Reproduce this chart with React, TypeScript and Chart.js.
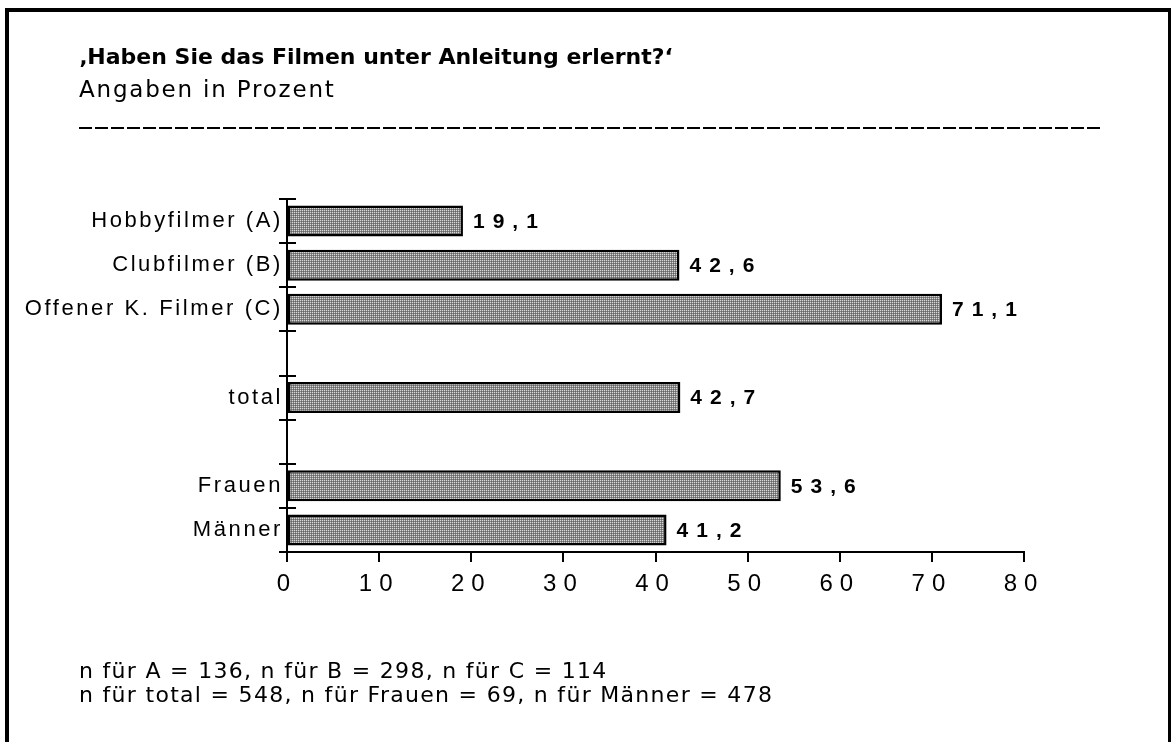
import React, { useEffect, useRef } from "react";
import { Chart, registerables } from "chart.js";

Chart.register(...registerables);

// ---- data ----
const categories = [
  "Hobbyfilmer (A)",
  "Clubfilmer (B)",
  "Offener K. Filmer (C)",
  "",
  "total",
  "",
  "Frauen",
  "Männer",
];
const values: (number | null)[] = [19.1, 42.6, 71.1, null, 42.7, null, 53.6, 41.2];
const xTickValues = [0, 10, 20, 30, 40, 50, 60, 70, 80];
const xTickLabels = ["0", "10", "20", "30", "40", "50", "60", "70", "80"];

const titleText = "‚Haben Sie das Filmen unter Anleitung erlernt?‘";
const subtitleText = "Angaben in Prozent";
const footnoteLines = [
  "n für A = 136, n für B = 298, n für C = 114",
  "n für total = 548, n für Frauen = 69, n für Männer = 478",
];

const W = 1171;
const H = 742;

function makePattern(): CanvasPattern | string {
  const c = document.createElement("canvas");
  c.width = 2;
  c.height = 2;
  const g = c.getContext("2d");
  if (!g) return "#999999";
  g.fillStyle = "#858585";
  g.fillRect(0, 0, 2, 2);
  g.fillStyle = "#d8d8d8";
  g.fillRect(0, 0, 1, 1);
  g.fillStyle = "#666666";
  g.fillRect(1, 1, 1, 1);
  const p = g.createPattern(c, "repeat");
  return p || "#999999";
}

const spacingPlugin = {
  id: "spacing",
  beforeDraw(chart: any) {
    chart.ctx.letterSpacing = "2.6px";
  },
  afterDatasetsDraw(chart: any) {
    const ctx = chart.ctx;
    const meta = chart.getDatasetMeta(0);
    ctx.save();
    ctx.letterSpacing = "8px";
    ctx.font = 'bold 21px "Liberation Sans", Arial, sans-serif';
    ctx.fillStyle = "#000";
    ctx.textAlign = "left";
    ctx.textBaseline = "middle";
    meta.data.forEach((bar: any, i: number) => {
      const v = values[i];
      if (v == null) return;
      ctx.fillText(v.toFixed(1).replace(".", ","), bar.x + 10, bar.y + 1);
    });
    ctx.restore();
    ctx.letterSpacing = "7px";
  },
  afterDraw(chart: any) {
    const ctx = chart.ctx;
    const ys = chart.scales.y;
    const xs = chart.scales.x;
    const ax = xs.getPixelForValue(0);
    ctx.save();
    ctx.strokeStyle = "#000";
    ctx.lineWidth = 2;
    for (let i = 0; i <= categories.length; i++) {
      const py = Math.round(ys.getPixelForValue(i - 0.5));
      ctx.beginPath();
      ctx.moveTo(ax - 8, py);
      ctx.lineTo(ax + 9, py);
      ctx.stroke();
    }
    ctx.restore();
    ctx.letterSpacing = "0px";
  },
};

export default function App() {
  const ref = useRef<HTMLCanvasElement | null>(null);

  useEffect(() => {
    document.body.style.margin = "0";
    const canvas = ref.current;
    if (!canvas) return;
    const chart = new Chart(canvas, {
      type: "bar",
      data: {
        labels: categories,
        datasets: [
          {
            data: values as any,
            backgroundColor: makePattern() as any,
            borderColor: "#000",
            borderWidth: 2.5,
            borderSkipped: false,
            barPercentage: 0.7,
            categoryPercentage: 1.0,
          },
        ],
      },
      options: {
        indexAxis: "y",
        responsive: false,
        animation: false,
        devicePixelRatio: 1,
        layout: { padding: { left: 0, right: 147, top: 199, bottom: 0 } },
        plugins: {
          legend: { display: false },
          tooltip: { enabled: false },
          title: { display: false },
        },
        scales: {
          x: {
            type: "linear",
            min: 0,
            max: 80,
            afterFit: (s: any) => {
              s.height = 190;
            },
            afterBuildTicks: (s: any) => {
              s.ticks = xTickValues.map((v) => ({ value: v }));
            },
            ticks: {
              z: 1,
              padding: 8,
              color: "#000",
              font: { family: '"Liberation Sans", Arial, sans-serif', size: 24 },
              callback: (v: any) => {
                const i = xTickValues.indexOf(Number(v));
                return i >= 0 ? xTickLabels[i] : "";
              },
            },
            grid: {
              drawOnChartArea: false,
              drawTicks: true,
              tickLength: 10,
              color: "#000",
              lineWidth: 2,
            },
            border: { display: true, color: "#000", width: 2 },
          },
          y: {
            type: "category",
            afterFit: (s: any) => {
              s.width = 287;
            },
            ticks: {
              padding: 4,
              color: "#000",
              autoSkip: false,
              font: { family: '"Liberation Sans", Arial, sans-serif', size: 22 },
            },
            grid: { display: false, drawTicks: false },
            border: { display: true, color: "#000", width: 2 },
          },
        },
      },
      plugins: [spacingPlugin],
    });
    return () => chart.destroy();
  }, []);

  const textFont = '"DejaVu Sans", Verdana, sans-serif';

  return (
    <div
      style={{
        position: "fixed",
        left: 0,
        top: 0,
        width: W,
        height: H,
        overflow: "hidden",
        background: "#fff",
      }}
    >
      <div
        style={{
          position: "absolute",
          left: 5,
          top: 8,
          width: W - 5 - 7,
          height: H,
          borderLeft: "4px solid #000",
          borderTop: "4px solid #000",
          borderRight: "3px solid #000",
          boxSizing: "content-box",
        }}
      />
      <canvas
        ref={ref}
        width={W}
        height={H}
        style={{ position: "absolute", left: 0, top: 0, width: W, height: H }}
      />
      <div
        style={{
          position: "absolute",
          left: 79,
          top: 44,
          fontFamily: textFont,
          fontWeight: 700,
          fontSize: 22,
          lineHeight: "26px",
          whiteSpace: "pre",
          color: "#000",
        }}
      >
        {titleText}
      </div>
      <div
        style={{
          position: "absolute",
          left: 79,
          top: 76,
          fontFamily: textFont,
          fontSize: 23,
          lineHeight: "27px",
          letterSpacing: "1.8px",
          whiteSpace: "pre",
          color: "#000",
        }}
      >
        {subtitleText}
      </div>
      <div
        style={{
          position: "absolute",
          left: 79,
          top: 127,
          width: 1023,
          height: 2,
          background:
            "repeating-linear-gradient(to right, #000 0px, #000 13px, transparent 13px, transparent 16px)",
        }}
      />
      {footnoteLines.map((line, i) => (
        <div
          key={i}
          style={{
            position: "absolute",
            left: 79,
            top: 658 + i * 24,
            fontFamily: textFont,
            fontSize: 22,
            lineHeight: "26px",
            letterSpacing: "1.3px",
            whiteSpace: "pre",
            color: "#000",
          }}
        >
          {line}
        </div>
      ))}
    </div>
  );
}
